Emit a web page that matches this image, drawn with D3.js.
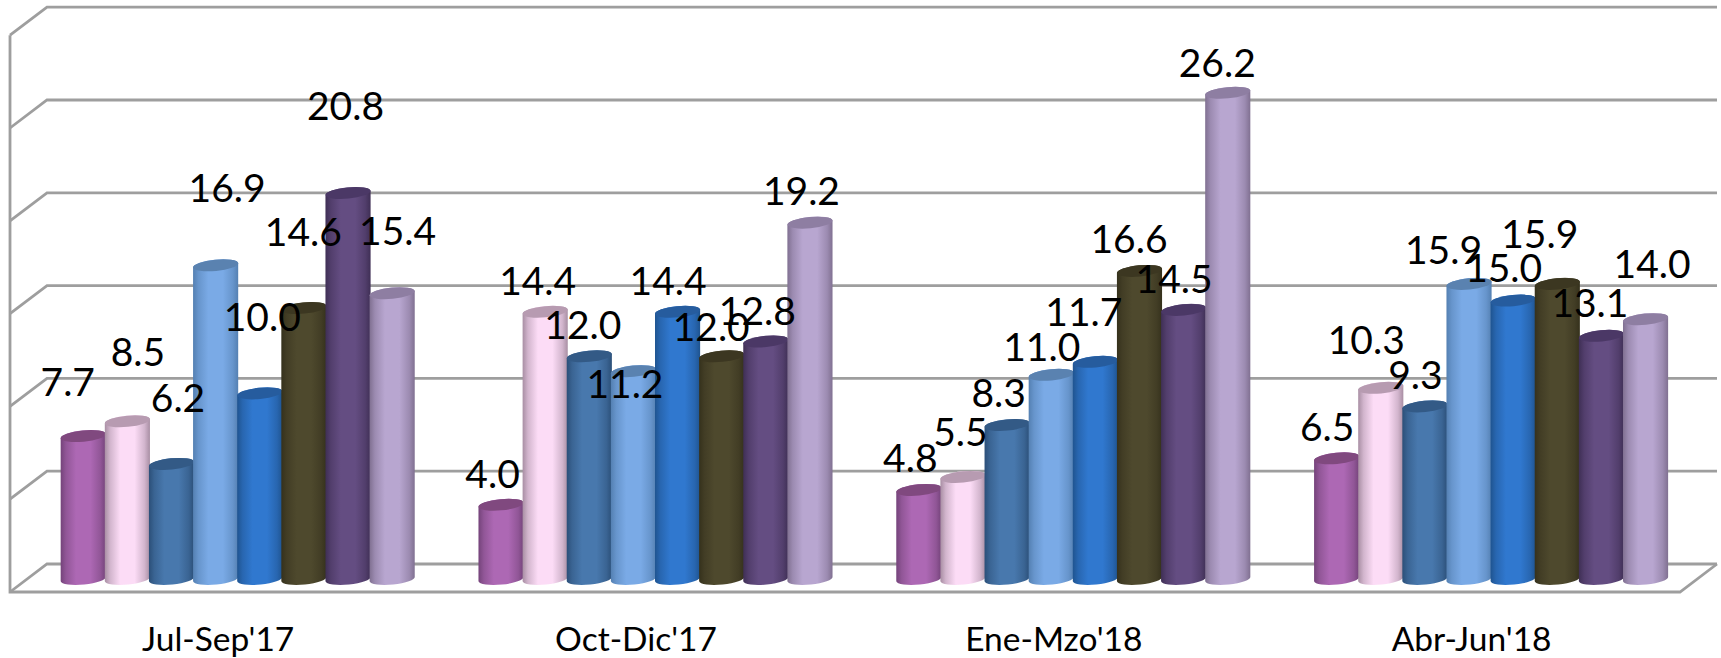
<!DOCTYPE html>
<html><head><meta charset="utf-8">
<script src="https://d3js.org/d3.v7.min.js"></script>
<style>html,body{margin:0;padding:0;background:#fff;overflow:hidden}svg{display:block}text{font-family:Lato,"Open Sans",sans-serif;fill:#000}</style>
</head><body><svg id="c" width="1721" height="658"></svg>
<script>
const categories = ["Jul-Sep'17","Oct-Dic'17","Ene-Mzo'18","Abr-Jun'18"];
const seriesA = [7.7,4.0,4.8,6.5];
const seriesB = [8.5,14.4,5.5,10.3];
const seriesC = [6.2,12.0,8.3,9.3];
const seriesD = [16.9,11.2,11.0,15.9];
const seriesE = [10.0,14.4,11.7,15.0];
const seriesF = [14.6,12.0,16.6,15.9];
const seriesG = [20.8,12.8,14.5,13.1];
const seriesH = [15.4,19.2,26.2,14.0];
const allSeries = [seriesA,seriesB,seriesC,seriesD,seriesE,seriesF,seriesG,seriesH];
const palette = [
 {edge:"#74437a",mid:"#ad68b4",top:"#80497f"},
 {edge:"#a88ea3",mid:"#fcdcf6",top:"#b79bb1"},
 {edge:"#2b4f78",mid:"#4878ad",top:"#335a86"},
 {edge:"#5480b2",mid:"#7aaae6",top:"#5a82b0"},
 {edge:"#1f5490",mid:"#3078cf",top:"#265c9e"},
 {edge:"#35311c",mid:"#4e492d",top:"#3c3721"},
 {edge:"#3f2f55",mid:"#644d82",top:"#4b3866"},
 {edge:"#807091",mid:"#b8a6d0",top:"#8e7ea2"}];
// hand placement of the value labels, relative to the top of each cylinder [series][category]
const labelDx = [[-15,-8,-8,-9],[11,-7,-2,-14],[7,-6,-8,-9],[12,-8,-9,-25],[3,-9,-11,-9],[0,-10,-10,-17],[-2,-8,-9,-11],[6,-8,-10,7]];
const labelDy = [[-56,-33,-34,-33],[-71,-33,-47,-50],[-68,-33,-34,-33],[-79,+11,-30,-36],[-78,-33,-52,-35],[-78,-31,-34,-52],[-89,-32,-33,-35],[-64,-34,-32,-57]];

const svg = d3.select("#c");
const y = d3.scaleLinear().domain([0,30]).range([579,579-6*92.8]);
const x0 = d3.scaleBand().domain(categories).range([28.3,1699.5]).paddingInner(0.155).paddingOuter(0.0775);
const x1 = d3.scaleBand().domain(d3.range(8)).range([0,x0.bandwidth()]);
const backDy=-15, frontDy=13, wallL=10, depth=37, floorR=1680;
const ticks = y.ticks(6);
const grid = svg.append("g").attr("fill","none").attr("stroke","#9e9e9e").attr("stroke-width",2.8);
grid.selectAll("path.g").data(ticks).join("path").attr("class","g")
  .attr("d",v=>`M${wallL},${y(v)+frontDy}L${wallL+depth},${y(v)+backDy}L${floorR+depth},${y(v)+backDy}`);
grid.append("path").attr("d",`M${wallL},${y(30)+frontDy}L${wallL},${y(0)+frontDy}L${floorR},${y(0)+frontDy}L${floorR+depth},${y(0)+backDy}`);

const defs = svg.append("defs");
palette.forEach((p,i)=>{
  const g = defs.append("linearGradient").attr("id","g"+i);
  [[0,p.edge],[.12,d3.interpolateRgb(p.edge,p.mid)(.5)],[.34,p.mid],[.66,p.mid],[.88,d3.interpolateRgb(p.edge,p.mid)(.5)],[1,p.edge]]
    .forEach(s=>g.append("stop").attr("offset",s[0]).attr("stop-color",s[1]));
});
const rot=-5.5, ry=5.6, tilt=2.3;
const flat=[];
allSeries.forEach((vals,s)=>vals.forEach((v,c)=>flat.push({s,c,v})));
const bars = svg.append("g").selectAll("g").data(flat).join("g");
bars.each(function(d){
  const g=d3.select(this), w=x1.bandwidth()+1, l=x0(categories[d.c])+x1(d.s), r=l+w, rx=w/2, t=y(d.v), b=y(0);
  g.append("path").attr("fill",`url(#g${d.s})`)
   .attr("d",`M${l},${t+tilt}L${l},${b+tilt}A${rx},${ry} ${rot} 0 0 ${r},${b-tilt}L${r},${t-tilt}A${rx},${ry} ${rot} 0 0 ${l},${t+tilt}Z`);
  g.append("ellipse").attr("fill",palette[d.s].top)
   .attr("rx",rx).attr("ry",ry).attr("transform",`translate(${(l+r)/2},${t}) rotate(${rot})`);
});
svg.append("g").selectAll("text").data(flat).join("text")
  .attr("text-anchor","middle").attr("font-size",39).attr("dy",".36em")
  .attr("x",d=>x0(categories[d.c])+x1(d.s)+x1.bandwidth()/2+labelDx[d.s][d.c])
  .attr("y",d=>y(d.v)+labelDy[d.s][d.c]+2)
  .text(d=>d.v.toFixed(1));
svg.append("g").selectAll("text").data(categories).join("text")
  .attr("text-anchor","middle").attr("font-size",33.5)
  .attr("x",c=>x0(c)+x0.bandwidth()/2-19).attr("y",651).text(c=>c);
</script></body></html>
